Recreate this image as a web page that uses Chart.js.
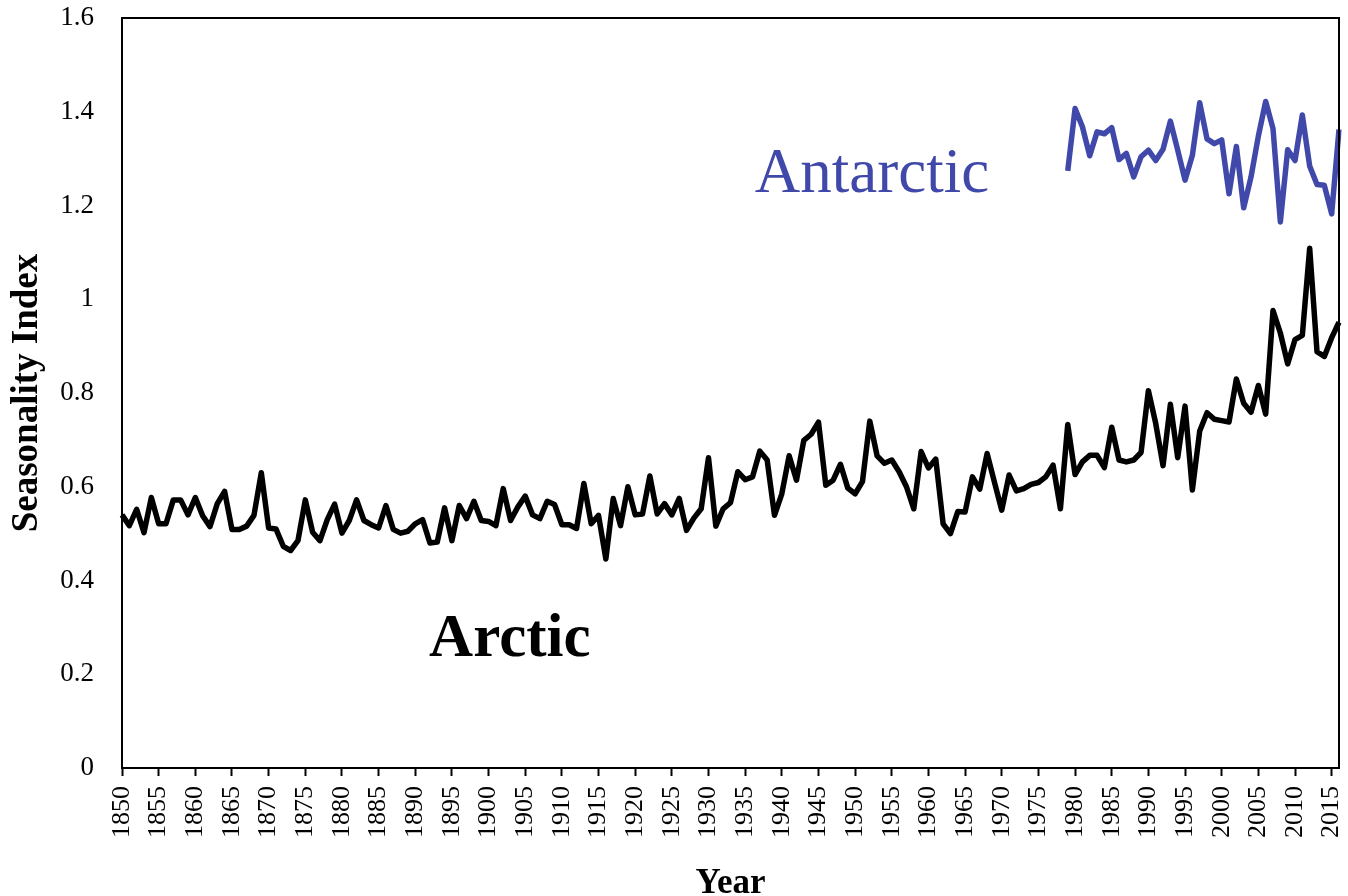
<!DOCTYPE html>
<html>
<head>
<meta charset="utf-8">
<script src="https://cdn.jsdelivr.net/npm/chart.js@4.4.1/dist/chart.umd.min.js"></script>
<style>
  html, body { margin: 0; padding: 0; background: #fff; }
  #wrap { width: 1348px; height: 896px; }
</style>
</head>
<body>
<div id="wrap"><canvas id="chart"></canvas></div>
<script>
// Year categories
const firstYear = 1850;
const lastYear = 2016;
const years = [];
for (let y = firstYear; y <= lastYear; y++) years.push(y);

// Arctic seasonality index, 1850-2016
const arctic = [
    0.540, 0.517, 0.552, 0.502, 0.577, 0.521, 0.521, 0.572, 0.572, 0.540, // 1850s
    0.577, 0.538, 0.515, 0.564, 0.590, 0.509, 0.509, 0.516, 0.539, 0.630, // 1860s
    0.512, 0.510, 0.473, 0.464, 0.485, 0.572, 0.503, 0.485, 0.530, 0.563, // 1870s
    0.501, 0.528, 0.572, 0.528, 0.519, 0.512, 0.560, 0.509, 0.501, 0.505, // 1880s
    0.521, 0.530, 0.480, 0.482, 0.555, 0.485, 0.560, 0.532, 0.569, 0.528, // 1890s
    0.526, 0.517, 0.596, 0.528, 0.557, 0.580, 0.540, 0.532, 0.569, 0.562, // 1900s
    0.519, 0.519, 0.511, 0.607, 0.521, 0.539, 0.446, 0.575, 0.517, 0.600, // 1910s
    0.540, 0.542, 0.623, 0.542, 0.564, 0.540, 0.575, 0.507, 0.533, 0.553, // 1920s
    0.662, 0.516, 0.553, 0.566, 0.632, 0.615, 0.621, 0.676, 0.657, 0.539, // 1930s
    0.585, 0.666, 0.614, 0.699, 0.712, 0.738, 0.603, 0.614, 0.648, 0.597, // 1940s
    0.585, 0.611, 0.740, 0.666, 0.650, 0.657, 0.632, 0.600, 0.553, 0.675, // 1950s
    0.640, 0.659, 0.521, 0.500, 0.547, 0.546, 0.621, 0.595, 0.671, 0.610, // 1960s
    0.550, 0.625, 0.591, 0.596, 0.605, 0.609, 0.621, 0.646, 0.553, 0.733, // 1970s
    0.626, 0.653, 0.667, 0.667, 0.641, 0.727, 0.657, 0.653, 0.657, 0.673, // 1980s
    0.805, 0.735, 0.645, 0.776, 0.662, 0.772, 0.593, 0.719, 0.758, 0.744, // 1990s
    0.741, 0.738, 0.830, 0.778, 0.759, 0.816, 0.755, 0.976, 0.928, 0.862, // 2000s
    0.914, 0.923, 1.109, 0.888, 0.878, 0.918, 0.951                      // 2010s
];

// Antarctic seasonality index, 1979-2016
const antarcticStart = 1979;
const antarctic = [
    1.274,                                                                // 1979
    1.407, 1.368, 1.306, 1.357, 1.353, 1.366, 1.298, 1.311, 1.261, 1.304, // 1980s
    1.318, 1.296, 1.320, 1.380, 1.318, 1.254, 1.307, 1.419, 1.342, 1.332, // 1990s
    1.340, 1.225, 1.326, 1.195, 1.261, 1.348, 1.422, 1.364, 1.165, 1.319, // 2000s
    1.296, 1.393, 1.284, 1.245, 1.243, 1.182, 1.362                      // 2010s
];

const yTicks = [0, 0.2, 0.4, 0.6, 0.8, 1, 1.2, 1.4, 1.6];

const FONT = "'Liberation Serif', 'Times New Roman', serif";
const BLUE = '#4049aa';

// pad antarctic to full year range
const antarcticFull = years.map(y => {
    const i = y - antarcticStart;
    return i >= 0 && i < antarctic.length ? antarctic[i] : null;
});

// drop the label overhang padding so the plot area is set by layout.padding only
function noPad(scale) {
    scale.paddingTop = 0;
    scale.paddingBottom = 0;
    scale.paddingLeft = 0;
    scale.paddingRight = 0;
}

// box round the plot area + series labels
const frameAndLabels = {
    id: 'frameAndLabels',
    afterDraw(chart) {
        const { ctx, chartArea: a, scales } = chart;
        ctx.save();
        ctx.strokeStyle = '#000';
        ctx.lineWidth = 2;
        ctx.strokeRect(a.left, a.top, a.right - a.left, a.bottom - a.top);

        ctx.textAlign = 'center';
        ctx.textBaseline = 'alphabetic';
        ctx.fillStyle = BLUE;
        ctx.font = `63px ${FONT}`;
        ctx.fillText('Antarctic', scales.x.getPixelForValue(1952.3 - firstYear), scales.y.getPixelForValue(1.228));
        ctx.fillStyle = '#000';
        ctx.font = `bold 61px ${FONT}`;
        ctx.fillText('Arctic', scales.x.getPixelForValue(1902.9 - firstYear), scales.y.getPixelForValue(0.238));
        ctx.restore();
    }
};

new Chart(document.getElementById('chart').getContext('2d'), {
    type: 'line',
    data: {
        labels: years,
        datasets: [
            {
                label: 'Arctic',
                data: arctic,
                borderColor: '#000',
                borderWidth: 5.5,
                borderJoinStyle: 'round',
                pointRadius: 0,
                tension: 0
            },
            {
                label: 'Antarctic',
                data: antarcticFull,
                borderColor: BLUE,
                borderWidth: 5.5,
                borderJoinStyle: 'round',
                pointRadius: 0,
                tension: 0,
                spanGaps: false
            }
        ]
    },
    options: {
        responsive: true,
        maintainAspectRatio: false,
        animation: false,
        layout: { autoPadding: false, padding: { left: 0, right: 9, top: 18, bottom: 0 } },
        plugins: {
            legend: { display: false },
            tooltip: { enabled: false }
        },
        scales: {
            x: {
                offset: false,
                afterFit: scale => { scale.height = 128; noPad(scale); },
                grid: {
                    display: true,
                    drawOnChartArea: false,
                    drawTicks: true,
                    tickLength: 8,
                    tickWidth: 2,
                    tickColor: '#000'
                },
                border: { display: true, color: '#000', width: 2 },
                ticks: {
                    autoSkip: false,
                    maxRotation: 90,
                    minRotation: 90,
                    padding: 10,
                    color: '#000',
                    font: { family: FONT, size: 26 },
                    callback: (v, i) => (years[i] % 5 === 0 ? String(years[i]) : null)
                },
                title: {
                    display: true,
                    text: 'Year',
                    color: '#000',
                    font: { family: FONT, size: 35, weight: 'bold' },
                    padding: { top: 0, bottom: -9 }
                }
            },
            y: {
                min: 0,
                max: 1.6,
                afterFit: scale => { scale.width = 122; noPad(scale); },
                afterBuildTicks: scale => { scale.ticks = yTicks.map(v => ({ value: v })); },
                grid: { display: false, drawTicks: false },
                border: { display: true, color: '#000', width: 2 },
                ticks: {
                    padding: 28,
                    color: '#000',
                    font: { family: FONT, size: 27 },
                    callback: v => String(+v.toFixed(1))
                },
                title: {
                    display: true,
                    text: 'Seasonality Index',
                    color: '#000',
                    font: { family: FONT, size: 37, weight: 'bold' },
                    padding: { top: 5, bottom: 0 }
                }
            }
        }
    },
    plugins: [frameAndLabels]
});
</script>
</body>
</html>
